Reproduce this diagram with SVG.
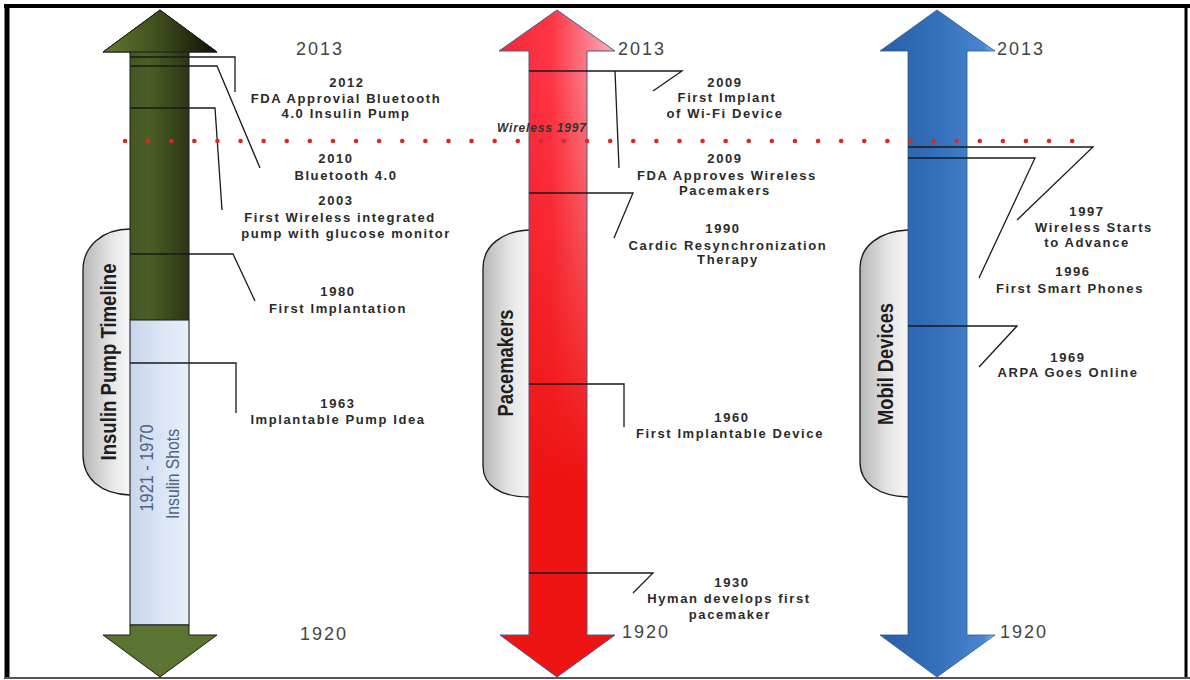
<svg xmlns="http://www.w3.org/2000/svg" width="1190" height="680" viewBox="0 0 1190 680">
<defs>
<linearGradient id="gHead" x1="0" y1="0" x2="1" y2="0"><stop offset="0" stop-color="#627a32"/><stop offset="0.5" stop-color="#3e4c1d"/><stop offset="1" stop-color="#0d1105"/></linearGradient>
<linearGradient id="gShaft" x1="0" y1="0" x2="1" y2="0"><stop offset="0" stop-color="#3a4a1b"/><stop offset="0.4" stop-color="#4d5e26"/><stop offset="0.75" stop-color="#2b3615"/><stop offset="1" stop-color="#1a210c"/></linearGradient>
<linearGradient id="lBlue" x1="0" y1="0" x2="1" y2="0"><stop offset="0" stop-color="#c8d6ec"/><stop offset="0.5" stop-color="#d9e4f4"/><stop offset="1" stop-color="#e9f0fa"/></linearGradient>
<linearGradient id="rH" x1="0" y1="0" x2="1" y2="0"><stop offset="0" stop-color="#f22838"/><stop offset="0.45" stop-color="#ff3444"/><stop offset="1" stop-color="#f7b2ba"/></linearGradient>
<linearGradient id="rV" x1="0" y1="0" x2="0" y2="1"><stop offset="0.1" stop-color="#ee1414" stop-opacity="0"/><stop offset="0.7" stop-color="#ee1414" stop-opacity="1"/></linearGradient>
<linearGradient id="bH" x1="0" y1="0" x2="1" y2="0"><stop offset="0" stop-color="#2a5ea6"/><stop offset="0.5" stop-color="#3470bb"/><stop offset="0.9" stop-color="#4a86cf"/><stop offset="1" stop-color="#8fb6e6"/></linearGradient>
<linearGradient id="bub" x1="0" y1="0" x2="1" y2="0"><stop offset="0" stop-color="#b6b6b6"/><stop offset="0.6" stop-color="#e6e6e6"/><stop offset="1" stop-color="#f6f6f6"/></linearGradient>
<style>
.lbl{font-family:"Liberation Sans",Arial,sans-serif;font-weight:bold;font-size:13px;letter-spacing:1.6px;fill:#2a2a2a;text-anchor:middle}
.yr{font-family:"Liberation Sans",Arial,sans-serif;font-size:18px;letter-spacing:2px;fill:#444}
.rot{font-family:"Liberation Sans",Arial,sans-serif;font-weight:bold;font-size:22px;fill:#1e1e1e;text-anchor:middle}
.shot{font-family:"Liberation Sans",Arial,sans-serif;font-size:18px;fill:#4d6382;text-anchor:middle}
.bubble{fill:url(#bub);stroke:#1a1a1a;stroke-width:1.3}
.conn{fill:none;stroke:#1a1a1a;stroke-width:1.3}
</style>
</defs>
<rect width="1190" height="680" fill="#fff"/>
<g id="frame">
<line x1="4" y1="6" x2="1190" y2="6" stroke="#000" stroke-width="4"/>
<line x1="7" y1="4" x2="7" y2="679" stroke="#000" stroke-width="5"/>
<line x1="1186" y1="4" x2="1186" y2="679" stroke="#000" stroke-width="3"/>
<line x1="4" y1="678" x2="1190" y2="678" stroke="#555" stroke-width="2"/>
</g>
<g id="insulin-arrow">
<path class="bubble" d="M130,229 C103,229 83,246 83,270 L83,455 C83,478 100,494 130,495"/>
<polygon points="160,10 217,52 189,52 189,320 130,320 130,52 103,52" fill="url(#gShaft)" stroke="#1a1a1a" stroke-width="1"/>
<polygon points="160,10 217,52 103,52" fill="url(#gHead)" stroke="#1a1a1a" stroke-width="1"/>
<rect x="130" y="320" width="59" height="305" fill="url(#lBlue)" stroke="#333" stroke-width="1.2"/>
<polygon points="130,625 189,625 189,635 217,635 160,677 103,635 130,635" fill="#5c7431" stroke="#1a1a1a" stroke-width="1"/>
<text class="rot" transform="translate(116,362) rotate(-90)" textLength="197" lengthAdjust="spacingAndGlyphs">Insulin Pump Timeline</text>
<text class="shot" transform="translate(153,468) rotate(-90)" textLength="87" lengthAdjust="spacingAndGlyphs">1921 - 1970</text>
<text class="shot" transform="translate(179,474) rotate(-90)" textLength="90" lengthAdjust="spacingAndGlyphs">Insulin Shots</text>
</g>
<g id="pacemaker-arrow">
<path class="bubble" d="M529,230 C502,231 483,246 483,268 L483,466 C483,485 500,497 529,497"/>
<polygon points="557,10 615,51 587,51 587,635 615,635 557,677 500,635 529,635 529,51 499,51" fill="url(#rH)"/>
<polygon points="557,10 615,51 587,51 587,635 615,635 557,677 500,635 529,635 529,51 499,51" fill="url(#rV)" stroke="#4d5a82" stroke-width="1"/>
<text class="rot" transform="translate(513,363) rotate(-90)" textLength="107" lengthAdjust="spacingAndGlyphs">Pacemakers</text>
</g>
<g id="mobile-arrow">
<path class="bubble" d="M908,230 C880,231 860,246 860,268 L860,462 C860,483 878,496 908,497"/>
<polygon points="937,10 995,51 967,51 967,635 995,635 937,677 880,635 908,635 908,51 880,51" fill="url(#bH)" stroke="#2b5592" stroke-width="0.8"/>
<text class="rot" transform="translate(893,364) rotate(-90)" textLength="122" lengthAdjust="spacingAndGlyphs">Mobil Devices</text>
</g>
<g id="connectors">
<path class="conn" d="M130,57 H235 V92"/>
<path class="conn" d="M130,66 H217 L260,168"/>
<path class="conn" d="M130,108 H215 L222,210"/>
<path class="conn" d="M130,254 H233 L255,301"/>
<path class="conn" d="M130,363 H236 V413"/>
<path class="conn" d="M529,71 H682 L653,91"/>
<path class="conn" d="M615,71 L619,168"/>
<path class="conn" d="M529,193 H633 L614,238"/>
<path class="conn" d="M529,384 H624 V427"/>
<path class="conn" d="M529,573 H653 L633,593"/>
<path class="conn" d="M908,147 H1093 L1017,220"/>
<path class="conn" d="M967,158 H1035 L979,278"/>
<path class="conn" d="M908,158 H967" stroke="#6a1838" stroke-width="1.3"/>
<path class="conn" d="M967,326 H1017 L979,367"/>
<path class="conn" d="M908,326 H967" stroke="#8a1a3a" stroke-width="1.3"/>
</g>
<g id="wireless-1997">
<line x1="125" y1="141" x2="1092" y2="141" stroke="#d42a2a" stroke-width="4.5" stroke-linecap="round" stroke-dasharray="0.1 23"/>
<text x="497" y="132" font-family="Liberation Sans, Arial, sans-serif" font-size="12" font-weight="bold" font-style="italic" letter-spacing="0.8" fill="#333">Wireless 1997</text>
</g>
<g id="labels">
<text class="yr" x="296" y="55">2013</text>
<text class="yr" x="618" y="55">2013</text>
<text class="yr" x="997" y="55">2013</text>
<text class="yr" x="300" y="640">1920</text>
<text class="yr" x="622" y="638">1920</text>
<text class="yr" x="1000" y="638">1920</text>
<text class="lbl" x="347" y="87">2012</text>
<text class="lbl" x="346" y="103">FDA Approvial Bluetooth</text>
<text class="lbl" x="346" y="118">4.0 Insulin Pump</text>
<text class="lbl" x="336" y="163">2010</text>
<text class="lbl" x="346" y="180">Bluetooth 4.0</text>
<text class="lbl" x="336" y="205">2003</text>
<text class="lbl" x="340" y="222">First Wireless integrated</text>
<text class="lbl" x="346" y="238">pump with glucose monitor</text>
<text class="lbl" x="338" y="296">1980</text>
<text class="lbl" x="338" y="313">First Implantation</text>
<text class="lbl" x="338" y="408">1963</text>
<text class="lbl" x="338" y="424">Implantable Pump Idea</text>
<text class="lbl" x="725" y="87">2009</text>
<text class="lbl" x="727" y="102">First Implant</text>
<text class="lbl" x="725" y="118">of Wi-Fi Device</text>
<text class="lbl" x="725" y="163">2009</text>
<text class="lbl" x="727" y="180">FDA Approves Wireless</text>
<text class="lbl" x="725" y="195">Pacemakers</text>
<text class="lbl" x="723" y="233">1990</text>
<text class="lbl" x="728" y="250">Cardic Resynchronization</text>
<text class="lbl" x="728" y="264">Therapy</text>
<text class="lbl" x="732" y="587">1930</text>
<text class="lbl" x="729" y="603">Hyman develops first</text>
<text class="lbl" x="730" y="619">pacemaker</text>
<text class="lbl" x="732" y="422">1960</text>
<text class="lbl" x="730" y="438">First Implantable Device</text>
<text class="lbl" x="1087" y="216">1997</text>
<text class="lbl" x="1094" y="232">Wireless Starts</text>
<text class="lbl" x="1087" y="247">to Advance</text>
<text class="lbl" x="1073" y="276">1996</text>
<text class="lbl" x="1070" y="293">First Smart Phones</text>
<text class="lbl" x="1068" y="362">1969</text>
<text class="lbl" x="1068" y="377">ARPA Goes Online</text>
</g>
</svg>
